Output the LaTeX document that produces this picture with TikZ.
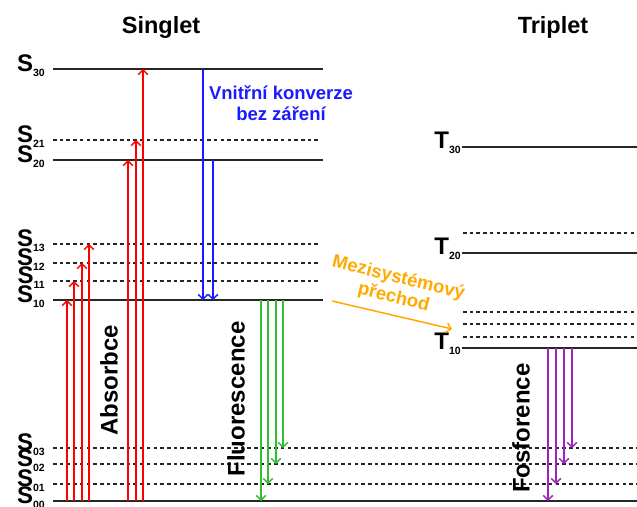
\documentclass[tikz,border=0pt]{standalone}
\usepackage{fontspec}
\setmainfont{Liberation Sans}
\usepackage{tikz}
\usetikzlibrary{arrows.meta}
\definecolor{absred}{HTML}{FF0000}
\definecolor{icblue}{HTML}{1A1AFF}
\definecolor{flgreen}{HTML}{33BB33}
\definecolor{iscorange}{HTML}{FFAA00}
\definecolor{phpurple}{HTML}{A020C0}
\definecolor{lvlgrey}{HTML}{262626}
\newcommand{\lsub}[1]{\raisebox{-5pt}{\fontsize{10.5}{10.5}\selectfont #1}}

\begin{document}
\begin{tikzpicture}[x=1pt,y=-1pt,font=\bfseries,
  lvl/.style={draw=lvlgrey,line width=1.8pt},
  lvld/.style={lvl,line width=1.5pt,dash pattern=on 3.6pt off 3.1pt},
  lab/.style={font=\bfseries\fontsize{24}{24}\selectfont,inner sep=0pt,anchor=base east},
  head/.style={font=\bfseries\fontsize{23.5}{23.5}\selectfont,inner sep=0pt,anchor=base},
  proc/.style={font=\bfseries\fontsize{24}{24}\selectfont,inner sep=0pt,rotate=90},
  tr/.style={line width=1.5pt,-{Straight Barb[length=4.5pt,width=9.5pt]}},
]
\useasboundingbox (0,0) rectangle (637,506);

\node[head] (singlet) at (161,33) {Singlet};
\node[head] (triplet) at (553,33) {Triplet};

% singlet levels
\foreach \n/\y/\s in {S30/69/30,S20/160/20,S10/300/10}{
  \coordinate (\n) at (0,\y);
  \draw[lvl] (53,\y) -- (323,\y);
  \node[lab] (l\n) at (45,\y+2) {S\lsub{\s}};
}
\foreach \n/\y/\s in {S21/140/21,S13/244/13,S12/263/12,S11/281/11}{
  \coordinate (\n) at (0,\y);
  \draw[lvld] (53,\y) -- (318,\y);
  \node[lab] (l\n) at (45,\y+2) {S\lsub{\s}};
}
% ground levels run under both columns
\foreach \n/\y/\s in {S03/448/03,S02/464/02,S01/484/01}{
  \coordinate (\n) at (0,\y);
  \draw[lvld] (53,\y) -- (637,\y);
  \node[lab] (l\n) at (45,\y+2) {S\lsub{\s}};
}
\coordinate (S00) at (0,501);
\draw[lvl] (53,501) -- (637,501);
\node[lab] (lS00) at (45,503) {S\lsub{00}};

% triplet levels
\foreach \n/\y/\s in {T30/147/30,T20/253/20,T10/348/10}{
  \coordinate (\n) at (0,\y);
  \draw[lvl] (462,\y) -- (637,\y);
  \node[lab] (l\n) at (461,\y+1) {T\lsub{\s}};
}
\foreach \y in {233,312,324,337}
  \draw[lvld] (463,\y) -- (637,\y);

% transitions
\foreach \x/\a/\b in {67/S00/S10,74/S00/S11,82/S00/S12,89/S00/S13,
                      128/S00/S20,136/S00/S21,143/S00/S30}
  \draw[tr,absred] ([xshift=\x pt]\a) -- ([xshift=\x pt]\b);
\foreach \x/\a/\b in {203/S30/S10,213/S20/S10}
  \draw[tr,icblue] ([xshift=\x pt]\a) -- ([xshift=\x pt]\b);
\foreach \x/\a/\b in {261/S10/S00,268/S10/S01,276/S10/S02,283/S10/S03}
  \draw[tr,flgreen] ([xshift=\x pt]\a) -- ([xshift=\x pt]\b);
\foreach \x/\a/\b in {548/T10/S00,556/T10/S01,564/T10/S02,572/T10/S03}
  \draw[tr,phpurple] ([xshift=\x pt]\a) -- ([xshift=\x pt]\b);

\coordinate (iscA) at (332,301);
\coordinate (iscB) at (452,329);
\draw[tr,iscorange] (iscA) -- (iscB);

\node[proc] (absorbce) at (109,380) {Absorbce};
\node[proc] (fluor) at (236,399) {Fluorescence};
\node[proc] (fosfor) at (521,428) {Fosforence};

\node[text=icblue,align=center,inner sep=0pt,
      font=\bfseries\fontsize{18.5}{21}\selectfont] (ic) at (281,103)
  {Vnitřní konverze\\bez záření};
\node[text=iscorange,align=center,inner sep=0pt,rotate=-14,
      font=\bfseries\fontsize{18.5}{20}\selectfont] (isc) at (396,288)
  {Mezisystémový\\přechod};
\end{tikzpicture}
\end{document}
